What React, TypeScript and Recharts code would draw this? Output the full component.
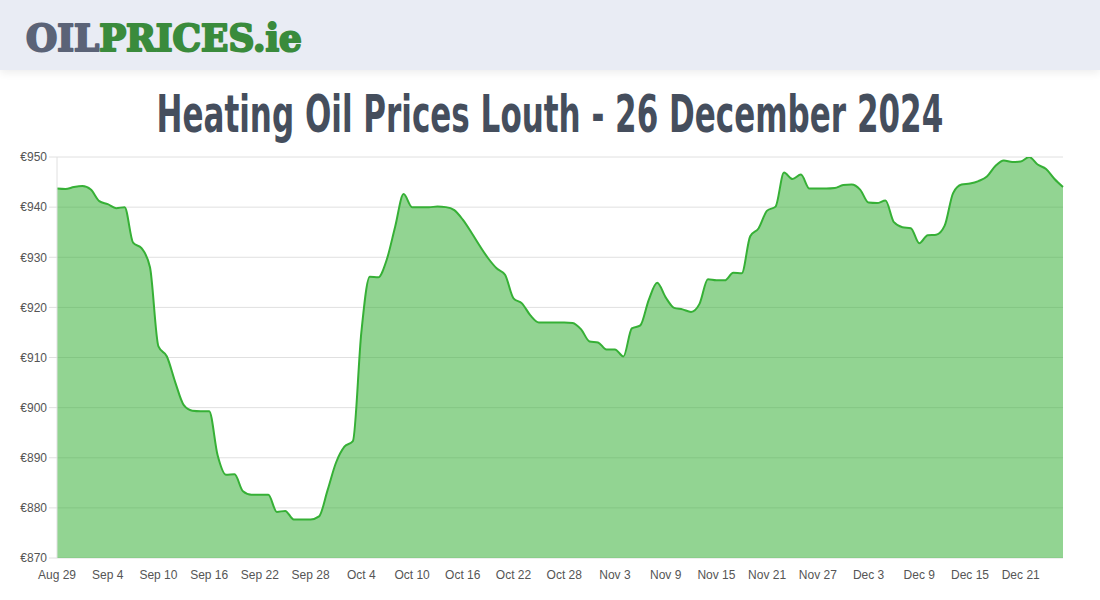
import React, { useLayoutEffect, useRef, useState } from "react";
import { AreaChart, Area, XAxis, YAxis, CartesianGrid } from "recharts";

const dates = [
  "Aug 29", "Aug 30", "Aug 31",
  "Sep 1", "Sep 2", "Sep 3", "Sep 4", "Sep 5", "Sep 6", "Sep 7", "Sep 8", "Sep 9", "Sep 10",
  "Sep 11", "Sep 12", "Sep 13", "Sep 14", "Sep 15", "Sep 16", "Sep 17", "Sep 18", "Sep 19", "Sep 20",
  "Sep 21", "Sep 22", "Sep 23", "Sep 24", "Sep 25", "Sep 26", "Sep 27", "Sep 28", "Sep 29", "Sep 30",
  "Oct 1", "Oct 2", "Oct 3", "Oct 4", "Oct 5", "Oct 6", "Oct 7", "Oct 8", "Oct 9", "Oct 10",
  "Oct 11", "Oct 12", "Oct 13", "Oct 14", "Oct 15", "Oct 16", "Oct 17", "Oct 18", "Oct 19", "Oct 20",
  "Oct 21", "Oct 22", "Oct 23", "Oct 24", "Oct 25", "Oct 26", "Oct 27", "Oct 28", "Oct 29", "Oct 30", "Oct 31",
  "Nov 1", "Nov 2", "Nov 3", "Nov 4", "Nov 5", "Nov 6", "Nov 7", "Nov 8", "Nov 9", "Nov 10",
  "Nov 11", "Nov 12", "Nov 13", "Nov 14", "Nov 15", "Nov 16", "Nov 17", "Nov 18", "Nov 19", "Nov 20",
  "Nov 21", "Nov 22", "Nov 23", "Nov 24", "Nov 25", "Nov 26", "Nov 27", "Nov 28", "Nov 29", "Nov 30",
  "Dec 1", "Dec 2", "Dec 3", "Dec 4", "Dec 5", "Dec 6", "Dec 7", "Dec 8", "Dec 9", "Dec 10",
  "Dec 11", "Dec 12", "Dec 13", "Dec 14", "Dec 15", "Dec 16", "Dec 17", "Dec 18", "Dec 19", "Dec 20",
  "Dec 21", "Dec 22", "Dec 23", "Dec 24", "Dec 25", "Dec 26",
];

const prices = [
  943.7, 943.6, 944.0, 944.2, 943.5, 941.2, 940.6, 939.8, 940.0, 932.9,
  931.8, 928.0, 912.2, 910.2, 905.0, 900.5, 899.4, 899.3, 899.3, 890.5,
  886.6, 886.7, 883.3, 882.6, 882.6, 882.6, 879.2, 879.4, 877.7, 877.7,
  877.7, 878.3, 883.5, 889.0, 892.2, 893.3, 915.0, 926.1, 926.0, 929.5,
  936.1, 942.6, 940.0, 940.0, 940.0, 940.1, 940.0, 939.4, 937.5, 935.0,
  932.3, 929.8, 927.8, 926.5, 921.8, 920.8, 918.4, 917.0, 917.0, 917.0,
  917.0, 916.9, 915.6, 913.2, 913.0, 911.6, 911.6, 910.2, 915.8, 916.4,
  921.5, 924.9, 922.0, 919.9, 919.6, 919.1, 920.7, 925.6, 925.4, 925.4,
  926.9, 926.8, 934.2, 935.8, 939.3, 940.1, 946.9, 945.6, 946.5, 943.7,
  943.7, 943.7, 943.8, 944.4, 944.5, 943.5, 940.9, 940.8, 941.3, 937.0,
  936.0, 935.8, 932.8, 934.4, 934.5, 936.3, 942.8, 944.5, 944.7, 945.2,
  946.1, 948.2, 949.3, 949.0, 949.1, 950.0, 948.5, 947.6, 945.6, 944.0,
];

const xTicks = [
  "Aug 29", "Sep 4", "Sep 10", "Sep 16", "Sep 22", "Sep 28", "Oct 4", "Oct 10", "Oct 16", "Oct 22",
  "Oct 28", "Nov 3", "Nov 9", "Nov 15", "Nov 21", "Nov 27", "Dec 3", "Dec 9", "Dec 15", "Dec 21",
];

const yTicks = [870, 880, 890, 900, 910, 920, 930, 940, 950];

const data = dates.map((d, i) => ({ date: d, price: prices[i] }));

const TITLE = "Heating Oil Prices Louth - 26 December 2024";

function FittedText({
  x, y, width, children, ...rest
}: any) {
  const ref = useRef<SVGTextElement | null>(null);
  const [sx, setSx] = useState(1);
  useLayoutEffect(() => {
    if (ref.current) {
      const w = ref.current.getComputedTextLength();
      if (w > 0) setSx(width / w);
    }
  }, [width]);
  return (
    <g transform={`translate(${x},${y}) scale(${sx},1)`}>
      <text ref={ref} x={0} y={0} {...rest}>
        {children}
      </text>
    </g>
  );
}

export default function App() {
  return (
    <div
      style={{
        position: "absolute",
        top: 0,
        left: 0,
        width: 1100,
        height: 600,
        background: "#ffffff",
        overflow: "hidden",
      }}
    >
      <div style={{ position: "absolute", top: 0, left: 0 }}>
        <AreaChart
          width={1100}
          height={600}
          data={data}
          margin={{ top: 157, right: 37, bottom: 12, left: 0 }}
        >
          <CartesianGrid stroke="#e0e0e0" vertical={false} />
          <XAxis
            dataKey="date"
            ticks={xTicks}
            interval={0}
            tickLine={false}
            axisLine={false}
            tickSize={6}
            tickMargin={6}
            height={30}
            tick={{ fill: "#555", fontSize: 12, fontFamily: "Liberation Sans, Arial, sans-serif" }}
          />
          <YAxis
            domain={[870, 950]}
            ticks={yTicks}
            width={57}
            tickSize={8}
            tickMargin={2}
            tickFormatter={(v) => `€${v}`}
            axisLine={{ stroke: "#e0e0e0" }}
            tickLine={{ stroke: "#e0e0e0" }}
            tick={{ fill: "#555", fontSize: 12, fontFamily: "Liberation Sans, Arial, sans-serif" }}
            allowDataOverflow
          />
          <Area
            type="monotone"
            dataKey="price"
            stroke="#36b036"
            strokeWidth={2}
            fill="#37b037"
            fillOpacity={0.545}
            dot={false}
            activeDot={false}
            isAnimationActive={false}
          />
        </AreaChart>
      </div>
      <div
        style={{
          position: "absolute",
          top: 0,
          left: 0,
          width: 1100,
          height: 70,
          background: "#e9ecf4",
          boxShadow: "0 3px 8px rgba(0,0,0,0.07)",
        }}
      />
      <svg
        width={1100}
        height={156}
        style={{ position: "absolute", top: 0, left: 0 }}
      >
        <FittedText
          x={26}
          y={51}
          width={276}
          fontFamily="'DejaVu Serif', serif"
          fontWeight={700}
          fontSize={37}
          strokeWidth={2.2}
          strokeLinejoin="round"
        >
          <tspan fill="#5b6377" stroke="#5b6377">OIL</tspan>
          <tspan fill="#3a8b3c" stroke="#3a8b3c">PRICES.ie</tspan>
        </FittedText>
        <FittedText
          x={156.5}
          y={131.5}
          width={787}
          fill="#454e5d"
          fontFamily="'Liberation Sans Narrow', 'DejaVu Sans Condensed', sans-serif"
          fontWeight={700}
          fontSize={51}
        >
          {TITLE}
        </FittedText>
      </svg>
    </div>
  );
}
